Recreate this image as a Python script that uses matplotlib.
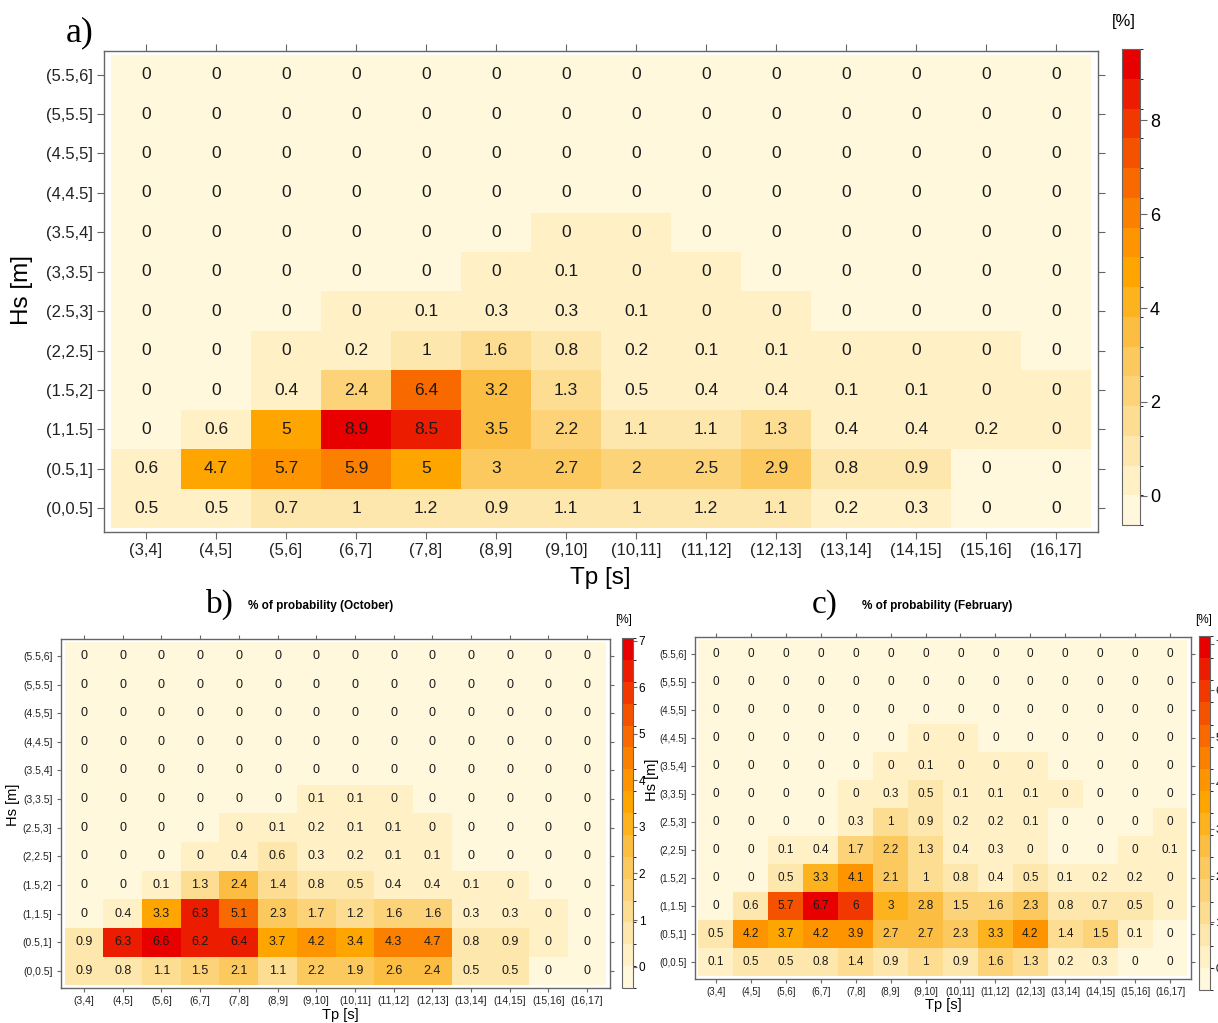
# Wave climate joint probability (Hs vs Tp) - three heatmaps
import numpy as np
import matplotlib.pyplot as plt
from matplotlib.colors import ListedColormap, BoundaryNorm
from matplotlib.cm import ScalarMappable

tp_labels = ['(3,4]', '(4,5]', '(5,6]', '(6,7]', '(7,8]', '(8,9]', '(9,10]',
             '(10,11]', '(11,12]', '(12,13]', '(13,14]', '(14,15]', '(15,16]', '(16,17]']
hs_labels = ['(5.5,6]', '(5,5.5]', '(4.5,5]', '(4,4.5]', '(3.5,4]', '(3,3.5]',
             '(2.5,3]', '(2,2.5]', '(1.5,2]', '(1,1.5]', '(0.5,1]', '(0,0.5]']

# rows from top (5.5,6] to bottom (0,0.5]; 0.03 = non-zero but rounds to 0
prob_all = [
    [0, 0, 0, 0, 0, 0, 0, 0, 0, 0, 0, 0, 0, 0],
    [0, 0, 0, 0, 0, 0, 0, 0, 0, 0, 0, 0, 0, 0],
    [0, 0, 0, 0, 0, 0, 0, 0, 0, 0, 0, 0, 0, 0],
    [0, 0, 0, 0, 0, 0, 0, 0, 0, 0, 0, 0, 0, 0],
    [0, 0, 0, 0, 0, 0, 0.03, 0.03, 0, 0, 0, 0, 0, 0],
    [0, 0, 0, 0, 0, 0.03, 0.1, 0.03, 0.03, 0, 0, 0, 0, 0],
    [0, 0, 0, 0.03, 0.1, 0.3, 0.3, 0.1, 0.03, 0.03, 0, 0, 0, 0],
    [0, 0, 0.03, 0.2, 1, 1.6, 0.8, 0.2, 0.1, 0.1, 0.03, 0.03, 0.03, 0],
    [0, 0, 0.4, 2.4, 6.4, 3.2, 1.3, 0.5, 0.4, 0.4, 0.1, 0.1, 0.03, 0.03],
    [0, 0.6, 5, 8.9, 8.5, 3.5, 2.2, 1.1, 1.1, 1.3, 0.4, 0.4, 0.2, 0.03],
    [0.6, 4.7, 5.7, 5.9, 5, 3, 2.7, 2, 2.5, 2.9, 0.8, 0.9, 0, 0],
    [0.5, 0.5, 0.7, 1, 1.2, 0.9, 1.1, 1, 1.2, 1.1, 0.2, 0.3, 0, 0],
]

prob_oct = [
    [0, 0, 0, 0, 0, 0, 0, 0, 0, 0, 0, 0, 0, 0],
    [0, 0, 0, 0, 0, 0, 0, 0, 0, 0, 0, 0, 0, 0],
    [0, 0, 0, 0, 0, 0, 0, 0, 0, 0, 0, 0, 0, 0],
    [0, 0, 0, 0, 0, 0, 0, 0, 0, 0, 0, 0, 0, 0],
    [0, 0, 0, 0, 0, 0, 0, 0, 0, 0, 0, 0, 0, 0],
    [0, 0, 0, 0, 0, 0, 0.1, 0.1, 0.03, 0, 0, 0, 0, 0],
    [0, 0, 0, 0, 0.03, 0.1, 0.2, 0.1, 0.1, 0.03, 0, 0, 0, 0],
    [0, 0, 0, 0.03, 0.4, 0.6, 0.3, 0.2, 0.1, 0.1, 0, 0, 0, 0],
    [0, 0, 0.1, 1.3, 2.4, 1.4, 0.8, 0.5, 0.4, 0.4, 0.1, 0.03, 0, 0],
    [0, 0.4, 3.3, 6.3, 5.1, 2.3, 1.7, 1.2, 1.6, 1.6, 0.3, 0.3, 0.03, 0],
    [0.9, 6.3, 6.6, 6.2, 6.4, 3.7, 4.2, 3.4, 4.3, 4.7, 0.8, 0.9, 0.03, 0],
    [0.9, 0.8, 1.1, 1.5, 2.1, 1.1, 2.2, 1.9, 2.6, 2.4, 0.5, 0.5, 0, 0],
]

prob_feb = [
    [0, 0, 0, 0, 0, 0, 0, 0, 0, 0, 0, 0, 0, 0],
    [0, 0, 0, 0, 0, 0, 0, 0, 0, 0, 0, 0, 0, 0],
    [0, 0, 0, 0, 0, 0, 0, 0, 0, 0, 0, 0, 0, 0],
    [0, 0, 0, 0, 0, 0, 0.03, 0.03, 0, 0, 0, 0, 0, 0],
    [0, 0, 0, 0, 0, 0.03, 0.1, 0.03, 0.03, 0.03, 0, 0, 0, 0],
    [0, 0, 0, 0, 0.03, 0.3, 0.5, 0.1, 0.1, 0.1, 0.03, 0, 0, 0],
    [0, 0, 0, 0, 0.3, 1, 0.9, 0.2, 0.2, 0.1, 0, 0, 0, 0.03],
    [0, 0, 0.1, 0.4, 1.7, 2.2, 1.3, 0.4, 0.3, 0.03, 0, 0, 0.03, 0.1],
    [0, 0, 0.5, 3.3, 4.1, 2.1, 1, 0.8, 0.4, 0.5, 0.1, 0.2, 0.2, 0.03],
    [0, 0.6, 5.7, 6.7, 6, 3, 2.8, 1.5, 1.6, 2.3, 0.8, 0.7, 0.5, 0.03],
    [0.5, 4.2, 3.7, 4.2, 3.9, 2.7, 2.7, 2.3, 3.3, 4.2, 1.4, 1.5, 0.1, 0],
    [0.1, 0.5, 0.5, 0.8, 1.4, 0.9, 1, 0.9, 1.6, 1.3, 0.2, 0.3, 0, 0],
]

colors16 = ['#FFF8DC', '#FFF0C6', '#FEE7AC', '#FDDD92', '#FDD37A', '#FCC95E',
            '#FCBE42', '#FDB31E', '#FEA500', '#FD9400', '#FB8000', '#F86A00',
            '#F55200', '#F13800', '#EC1C00', '#E80000']
cmap = ListedColormap(colors16)

SANS = ['Liberation Sans', 'DejaVu Sans']
NARROW = ['Liberation Sans Narrow', 'Liberation Sans', 'DejaVu Sans']
SERIF = ['Liberation Serif', 'DejaVu Serif']
EDGE = '#666666'


def draw_panel(ax, cax, data, cb_ticks, fs_cell, fs_tick, tick_len, family, cb_pad=2):
    z = np.array(data, dtype=float)
    nr, nc = z.shape
    vmax = z.max()
    # lattice-style range padding, 16 colour bins
    bounds = np.linspace(-0.07 * vmax, 1.07 * vmax, 17)
    norm = BoundaryNorm(bounds, cmap.N)
    ax.pcolormesh(np.arange(nc + 1) - 0.5, np.arange(nr + 1) - 0.5, z,
                  cmap=cmap, norm=norm)
    ax.set_xlim(-0.6, nc - 0.4)
    ax.set_ylim(nr - 0.4, -0.6)
    for i in range(nr):
        for j in range(nc):
            ax.text(j, i, f'{round(z[i, j], 1):g}', ha='center', va='center',
                    fontsize=fs_cell, family=family, color='#1a1a1a')
    ax.set_xticks(range(nc))
    ax.set_xticklabels(tp_labels, family=family, fontsize=fs_tick, color='#222222')
    ax.set_yticks(range(nr))
    ax.set_yticklabels(hs_labels, family=family, fontsize=fs_tick, color='#222222')
    ax.tick_params(top=True, right=True, direction='out', length=tick_len,
                   width=0.8, color=EDGE, pad=3)
    for s in ax.spines.values():
        s.set_color(EDGE)
        s.set_linewidth(1.0)

    cb = plt.colorbar(ScalarMappable(norm=norm, cmap=cmap), cax=cax, ticks=cb_ticks)
    cb.outline.set_edgecolor(EDGE)
    cb.outline.set_linewidth(0.8)
    cax.tick_params(direction='out', length=tick_len, width=0.8, color=EDGE,
                    labelsize=fs_tick + 1, pad=cb_pad)
    for lab in cax.get_yticklabels():
        lab.set_family(family)


fig = plt.figure(figsize=(12.18, 10.23), dpi=100)

# a) all data
ax_a = fig.add_axes([0.0854, 0.4800, 0.8161, 0.4702])
cax_a = fig.add_axes([0.9212, 0.4868, 0.0148, 0.4653])
draw_panel(ax_a, cax_a, prob_all, [0, 2, 4, 6, 8], 12.5, 12, 5, SANS)
fig.text(0.0657, 0.9677, 'a)', family=SERIF, fontsize=26, ha='center', va='center')
fig.text(0.9230, 0.9785, '[%]', family=SANS, fontsize=12, ha='center', va='center')
fig.text(0.4926, 0.4350, 'Tp [s]', family=SANS, fontsize=17.5, ha='center', va='center')
fig.text(0.0180, 0.7165, 'Hs [m]', family=SANS, fontsize=17.5, ha='center',
         va='center', rotation=90)

# b) October
ax_b = fig.add_axes([0.0499, 0.0342, 0.4512, 0.3414])
cax_b = fig.add_axes([0.5107, 0.0342, 0.0090, 0.3421])
draw_panel(ax_b, cax_b, prob_oct, range(8), 9, 7.5, 3, NARROW, cb_pad=1)
fig.text(0.1806, 0.4096, 'b)', family=SERIF, fontsize=24, ha='center', va='center')
fig.text(0.2036, 0.4076, '% of probability (October)', family=NARROW,
         fontsize=8.5, fontweight='bold', ha='left', va='center')
fig.text(0.5123, 0.3940, '[%]', family=NARROW, fontsize=8.5, ha='center', va='center')
fig.text(0.2790, 0.0078, 'Tp [s]', family=NARROW, fontsize=10.5, ha='center', va='center')
fig.text(0.0107, 0.2130, 'Hs [m]', family=NARROW, fontsize=10.5, ha='center',
         va='center', rotation=90)

# c) February
ax_c = fig.add_axes([0.5706, 0.0432, 0.4072, 0.3339])
cax_c = fig.add_axes([0.9844, 0.0322, 0.0090, 0.3460])
draw_panel(ax_c, cax_c, prob_feb, range(8), 8.5, 7, 3, NARROW, cb_pad=1)
fig.text(0.6773, 0.4086, 'c)', family=SERIF, fontsize=24, ha='center', va='center')
fig.text(0.7077, 0.4076, '% of probability (February)', family=NARROW,
         fontsize=8.5, fontweight='bold', ha='left', va='center')
fig.text(0.9880, 0.3940, '[%]', family=NARROW, fontsize=8.5, ha='center', va='center')
fig.text(0.7742, 0.0176, 'Tp [s]', family=NARROW, fontsize=10.5, ha='center', va='center')
fig.text(0.5350, 0.2375, 'Hs [m]', family=NARROW, fontsize=10.5, ha='center',
         va='center', rotation=90)

fig.savefig('out.png', dpi=100, facecolor='white')
